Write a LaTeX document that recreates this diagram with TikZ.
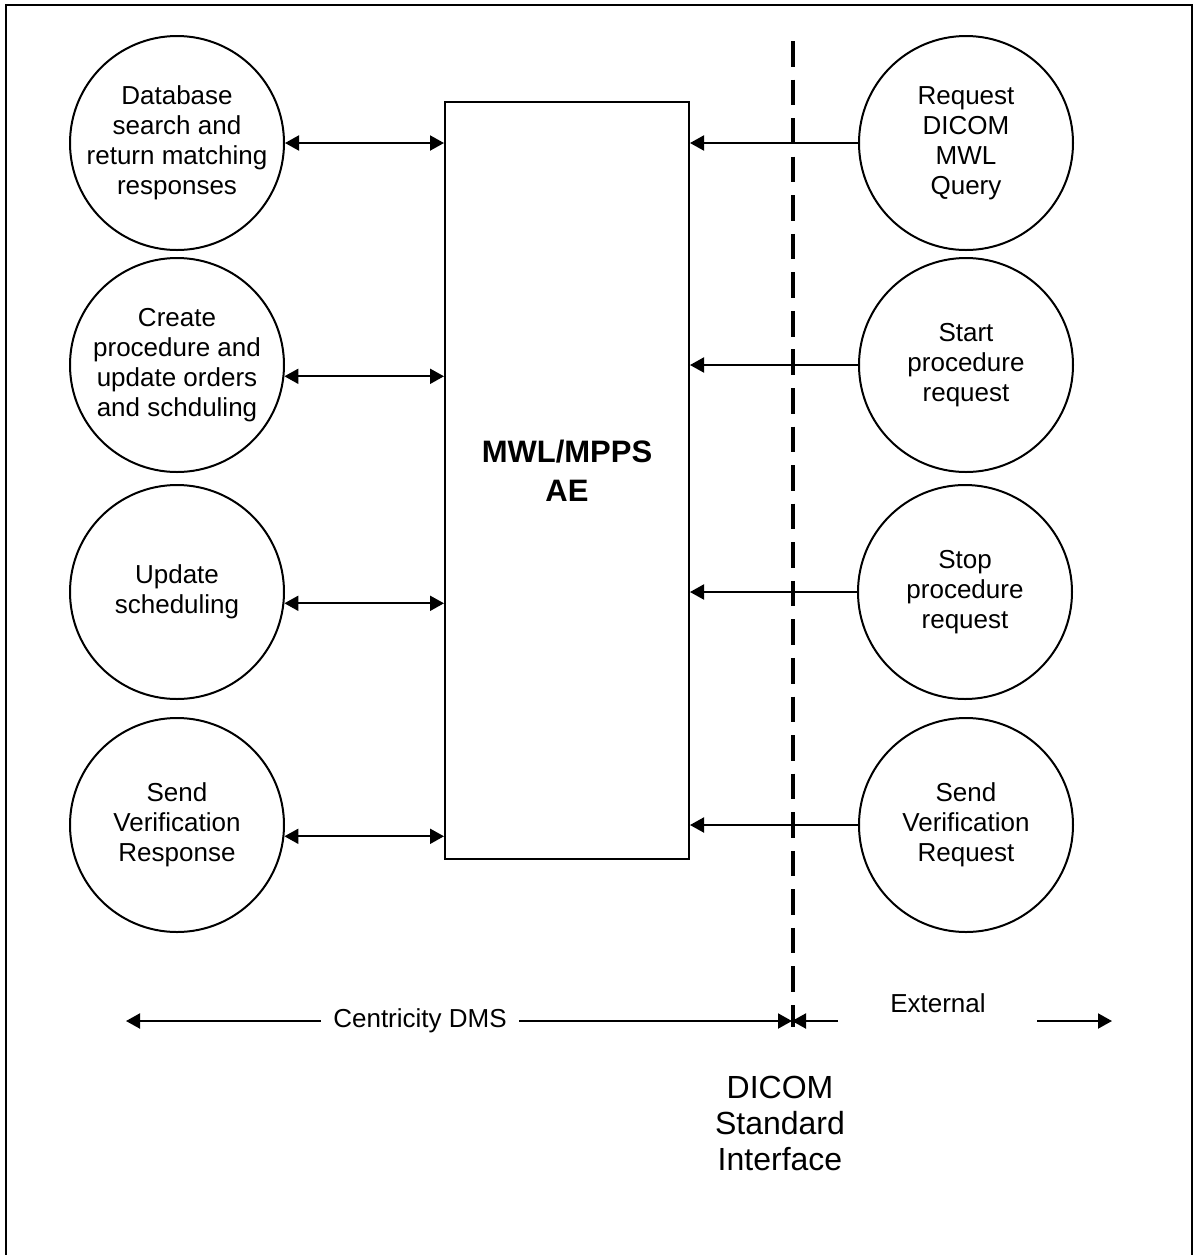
\documentclass[tikz,border=0pt]{standalone}
\usepackage{fontspec}
\setmainfont{Liberation Sans}
\usetikzlibrary{
    arrows.meta,
    positioning
}
\tikzset{proc/.style={circle, draw=black, line width=1pt, inner sep=0pt, minimum size=107pt, align=center, font=\fontsize{13}{15}\selectfont}}
\tikzset{darr/.style={line width=1pt, {Triangle[length=7pt, width=7.5pt]}-{Triangle[length=7pt, width=7.5pt]}}}
\tikzset{sarr/.style={line width=1pt, -{Triangle[length=7pt, width=7.5pt]}}}
\tikzset{lbl/.style={inner sep=0pt, font=\fontsize{13}{15}\selectfont}}

\begin{document}
\begin{tikzpicture}[x=0.5pt, y=-0.5pt]
    \useasboundingbox (0, 0) rectangle (1194, 1255);
    \draw[line width=1pt] (6, 1255) -- (6, 5) -- (1192, 5) -- (1192, 1255);

    \node[draw=black, line width=1pt, inner sep=0pt, minimum width=122pt, minimum height=378.5pt, align=center, text depth=10pt, font=\bfseries\fontsize{15.5}{19.5}\selectfont] (mwl) at (567, 480.5) {MWL/MPPS\\AE};

    \node[proc] (l1) at (177, 143) {Database\\search and\\return matching\\responses};
    \node[proc] (l2) at (177, 365) {Create\\procedure and\\update orders\\and schduling};
    \node[proc] (l3) at (177, 592) {Update\\scheduling};
    \node[proc] (l4) at (177, 825) {Send\\Verification\\Response};

    \node[proc] (r1) at (966, 143) {Request\\DICOM\\MWL\\Query};
    \node[proc] (r2) at (966, 365) {Start\\procedure\\request};
    \node[proc] (r3) at (965, 592) {Stop\\procedure\\request};
    \node[proc] (r4) at (966, 825) {Send\\Verification\\Request};

    \draw
    (l1.east) edge[darr] (mwl.west |- l1.east)
    (l2.-6.4) edge[darr] (mwl.west |- l2.-6.4)
    (l3.-6.4) edge[darr] (mwl.west |- l3.-6.4)
    (l4.-6.4) edge[darr] (mwl.west |- l4.-6.4);

    \draw
    (r1.west) edge[sarr] (mwl.east |- r1.west)
    (r2.west) edge[sarr] (mwl.east |- r2.west)
    (r3.west) edge[sarr] (mwl.east |- r3.west)
    (r4.west) edge[sarr] (mwl.east |- r4.west);

    \coordinate (dtop) at (793, 41);
    \coordinate (dbot) at (793, 1027);
    \draw[line width=2pt, dash pattern=on 12.8pt off 6.48pt] (dtop) -- (dbot);

    \coordinate (dleft) at (126, 1021);
    \coordinate (dmid) at (792, 1021);
    \coordinate (dright) at (1112, 1021);
    \coordinate (exta) at (838, 1021);
    \coordinate (extb) at (1037, 1021);

    \node[lbl, inner sep=6pt] (cdms) at (420, 1021) {Centricity DMS};
    \node[lbl] (ext) at (938, 1003) {External};
    \node[inner sep=0pt, align=center, font=\fontsize{16}{18}\selectfont] (dsi) at (780, 1123) {DICOM\\Standard\\Interface};

    \draw
    (cdms.west) edge[sarr] (dleft)
    (cdms.east) edge[sarr] (dmid)
    (exta) edge[sarr] (dmid)
    (extb) edge[sarr] (dright);
\end{tikzpicture}
\end{document}
